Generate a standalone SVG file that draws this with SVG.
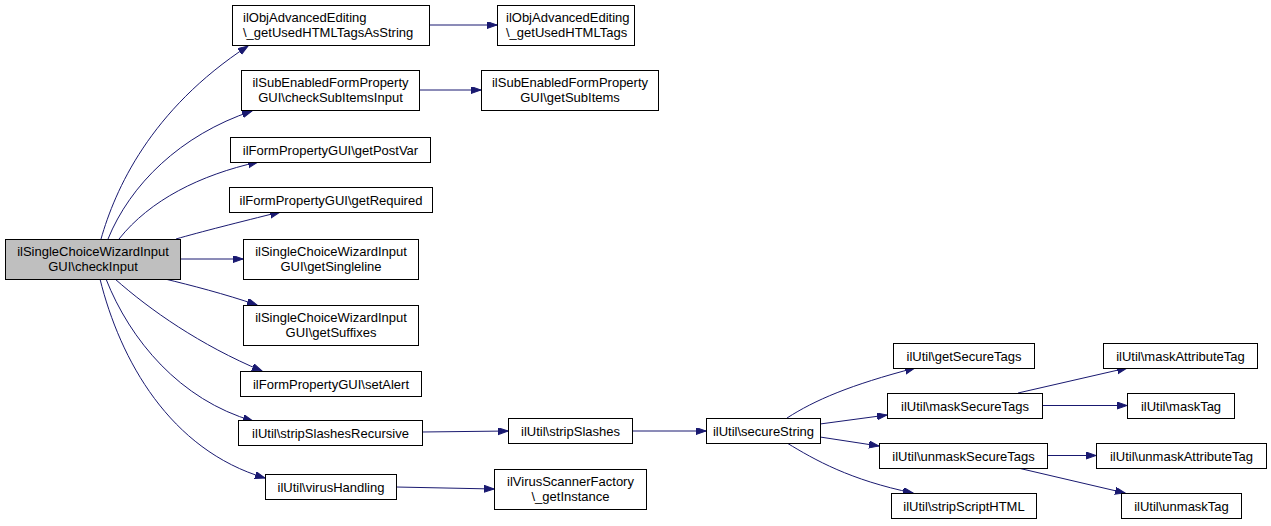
<svg xmlns="http://www.w3.org/2000/svg" width="1271" height="526" viewBox="0 0 1271 526">
<style>
.n rect{fill:#ffffff;stroke:#000000;stroke-width:1}
.n.main rect{fill:#bfbfbf}
.n text{font-family:"Liberation Sans",Arial,Helvetica,sans-serif;font-size:13px;fill:#000000;text-anchor:middle}
.n text.l{text-anchor:start}
.e path{fill:none;stroke:#191970;stroke-width:1;marker-end:url(#ah)}
</style>
<defs>
<marker id="ah" markerUnits="userSpaceOnUse" markerWidth="11" markerHeight="8" refX="10" refY="3.5" orient="auto">
<path d="M0,0 L10,3.5 L0,7 z" fill="#191970" stroke="#191970" stroke-width="1"/>
</marker>
</defs>
<rect width="1271" height="526" fill="#ffffff"/>
<g id="connectors" class="e">
<path d="M101,239 C115,190 150,110 248,46"/>
<path d="M108,239 C130,185 180,135 252,111"/>
<path d="M119,239 C150,200 200,175 258,162"/>
<path d="M176,239 C200,232 240,222 280,212"/>
<path d="M180,259 L243,259"/>
<path d="M165,279 C190,285 225,294 257,305"/>
<path d="M115,279 C150,310 200,345 262,371"/>
<path d="M106,279 C130,340 180,400 253,421"/>
<path d="M100,279 C120,360 170,450 265,478"/>
<path d="M429,25 L497,25"/>
<path d="M419,90 L481,90"/>
<path d="M422,432 L508,431"/>
<path d="M632,431 L706,431"/>
<path d="M396,487 L494,489"/>
<path d="M787,418 C815,400 850,385 915,368"/>
<path d="M820,424 L887,415"/>
<path d="M820,437 L879,446"/>
<path d="M787,443 C815,460 850,480 913,493"/>
<path d="M1018,393 L1127,368"/>
<path d="M1042,405.5 L1127,405.5"/>
<path d="M1047,455.5 L1096,455.5"/>
<path d="M1018,468 L1125,493"/>
</g>
<g id="node-main" class="n main"><rect x="5.5" y="239.5" width="175" height="40"/><text x="93" y="256">ilSingleChoiceWizardInput</text><text x="93" y="271">GUI\checkInput</text></g>
<g id="node-a1" class="n"><rect x="232.5" y="5.5" width="197" height="40"/><text class="l" x="243" y="22">ilObjAdvancedEditing</text><text class="l" x="243" y="37">\_getUsedHTMLTagsAsString</text></g>
<g id="node-a2" class="n"><rect x="497.5" y="5.5" width="137" height="40"/><text class="l" x="506" y="22">ilObjAdvancedEditing</text><text class="l" x="506" y="37">\_getUsedHTMLTags</text></g>
<g id="node-b1" class="n"><rect x="241.5" y="70.5" width="178" height="40"/><text x="330.5" y="87">ilSubEnabledFormProperty</text><text x="330.5" y="102">GUI\checkSubItemsInput</text></g>
<g id="node-b2" class="n"><rect x="481.5" y="70.5" width="177" height="40"/><text x="570" y="87">ilSubEnabledFormProperty</text><text x="570" y="102">GUI\getSubItems</text></g>
<g id="node-c" class="n"><rect x="230.5" y="137.5" width="200" height="25"/><text x="330.5" y="154.5">ilFormPropertyGUI\getPostVar</text></g>
<g id="node-d" class="n"><rect x="229.5" y="187.5" width="203" height="25"/><text x="331" y="204.5">ilFormPropertyGUI\getRequired</text></g>
<g id="node-e" class="n"><rect x="243.5" y="239.5" width="175" height="40"/><text x="331" y="256">ilSingleChoiceWizardInput</text><text x="331" y="271">GUI\getSingleline</text></g>
<g id="node-f" class="n"><rect x="243.5" y="305.5" width="175" height="40"/><text x="331" y="322">ilSingleChoiceWizardInput</text><text x="331" y="337">GUI\getSuffixes</text></g>
<g id="node-g" class="n"><rect x="240.5" y="371.5" width="181" height="25"/><text x="331" y="388.5">ilFormPropertyGUI\setAlert</text></g>
<g id="node-h" class="n"><rect x="238.5" y="420.5" width="184" height="25"/><text x="330.5" y="437.5">ilUtil\stripSlashesRecursive</text></g>
<g id="node-i" class="n"><rect x="265.5" y="474.5" width="131" height="25"/><text x="331" y="491.5">ilUtil\virusHandling</text></g>
<g id="node-j" class="n"><rect x="508.5" y="418.5" width="124" height="25"/><text x="570.5" y="435.5">ilUtil\stripSlashes</text></g>
<g id="node-k" class="n"><rect x="494.5" y="469.5" width="152" height="40"/><text x="570.5" y="486">ilVirusScannerFactory</text><text x="570.5" y="501">\_getInstance</text></g>
<g id="node-l" class="n"><rect x="706.5" y="418.5" width="114" height="25"/><text x="763.5" y="435.5">ilUtil\secureString</text></g>
<g id="node-m" class="n"><rect x="893.5" y="343.5" width="141" height="25"/><text x="964" y="360.5">ilUtil\getSecureTags</text></g>
<g id="node-n" class="n"><rect x="887.5" y="393.5" width="155" height="25"/><text x="965" y="410.5">ilUtil\maskSecureTags</text></g>
<g id="node-o" class="n"><rect x="879.5" y="443.5" width="168" height="25"/><text x="963.5" y="460.5">ilUtil\unmaskSecureTags</text></g>
<g id="node-p" class="n"><rect x="891.5" y="493.5" width="145" height="25"/><text x="964" y="510.5">ilUtil\stripScriptHTML</text></g>
<g id="node-q" class="n"><rect x="1103.5" y="343.5" width="154" height="25"/><text x="1180.5" y="360.5">ilUtil\maskAttributeTag</text></g>
<g id="node-r" class="n"><rect x="1127.5" y="393.5" width="107" height="25"/><text x="1181" y="410.5">ilUtil\maskTag</text></g>
<g id="node-s" class="n"><rect x="1096.5" y="443.5" width="170" height="25"/><text x="1181.5" y="460.5">ilUtil\unmaskAttributeTag</text></g>
<g id="node-t" class="n"><rect x="1121.5" y="493.5" width="120" height="25"/><text x="1181.5" y="510.5">ilUtil\unmaskTag</text></g>
</svg>
